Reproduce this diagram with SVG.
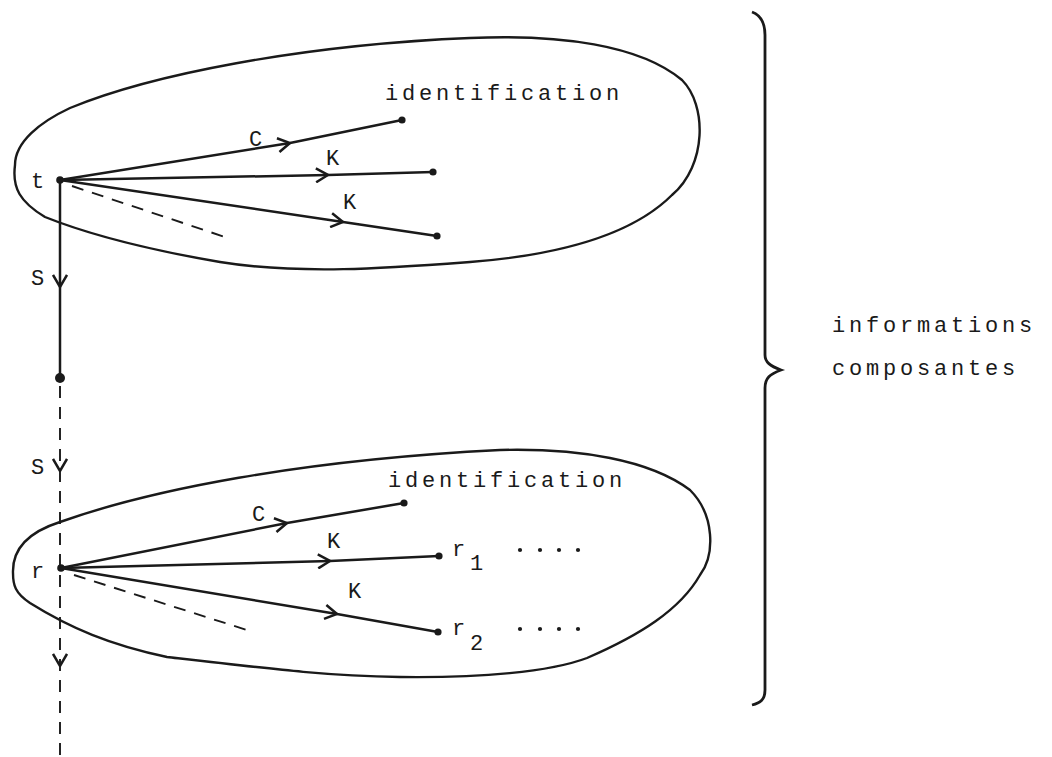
<svg xmlns="http://www.w3.org/2000/svg" width="1052" height="757" viewBox="0 0 1052 757">
  <style>
    .blob { fill: none; stroke: #1a1a1a; stroke-width: 2.4; }
    .edge { fill: none; stroke: #1a1a1a; stroke-width: 2.5; marker-mid: url(#chev); }
    .dash { fill: none; stroke: #1a1a1a; stroke-width: 1.9; stroke-dasharray: 12 9; }
    .dot { fill: #1a1a1a; }
    .lbl { font-family: "Liberation Mono", "DejaVu Sans Mono", monospace; font-size: 22px; fill: #1a1a1a; }
    .word { font-family: "Liberation Mono", "DejaVu Sans Mono", monospace; font-size: 22px; fill: #1a1a1a; letter-spacing: 3.8px; }
  </style>
  <defs>
    <marker id="chev" viewBox="0 0 14 16" refX="13" refY="8" markerWidth="14" markerHeight="16" markerUnits="userSpaceOnUse" orient="auto">
      <path d="M 1 1 L 13 8 L 1 15" fill="none" stroke="#1a1a1a" stroke-width="2.5"/>
    </marker>
  </defs>
  <rect width="1052" height="757" fill="#ffffff"/>

  <!-- upper set: term t -->
  <g id="set-t">
    <path class="blob" d="M 15 165 C 15 142, 40 122, 70 108 C 150 75, 300 45, 470 38 C 560 34, 640 45, 682 80 C 707 105, 707 165, 672 195 C 632 235, 560 255, 470 262 C 390 268, 300 275, 220 262 C 150 250, 90 235, 45 217 C 20 202, 12 188, 15 165 Z"/>
    <text class="lbl" x="31" y="188">t</text>
    <text class="word" x="385" y="100">identification</text>
    <circle class="dot" cx="60" cy="180" r="3.8"/>
    <circle class="dot" cx="402" cy="120" r="3.6"/>
    <circle class="dot" cx="433" cy="172" r="3.6"/>
    <circle class="dot" cx="437" cy="236" r="3.6"/>
  </g>

  <!-- lower set: term r -->
  <g id="set-r">
    <path class="blob" d="M 13 573 C 12 545, 35 530, 60 522 C 150 490, 300 460, 500 450 C 580 448, 650 460, 690 490 C 715 515, 715 555, 700 575 C 680 610, 640 635, 587 658 C 550 672, 480 678, 400 677 C 330 676, 280 670, 167 657 C 110 645, 70 628, 30 603 C 15 593, 13 585, 13 573 Z"/>
    <text class="lbl" x="31" y="578">r</text>
    <text class="word" x="388" y="487">identification</text>
    <circle class="dot" cx="61" cy="568" r="3.8"/>
    <circle class="dot" cx="404" cy="503" r="3.6"/>
    <circle class="dot" cx="439" cy="556" r="3.6"/>
    <circle class="dot" cx="438" cy="632" r="3.6"/>
    <text class="lbl" x="452" y="556">r</text>
    <text class="lbl" x="470" y="570">1</text>
    <text class="lbl" x="452" y="635">r</text>
    <text class="lbl" x="470" y="650">2</text>
    <g class="dot">
      <circle cx="520" cy="550" r="2.1"/><circle cx="540" cy="550" r="2.1"/><circle cx="559" cy="550" r="2.1"/><circle cx="578" cy="550" r="2.1"/>
      <circle cx="520" cy="629" r="2.1"/><circle cx="540" cy="629" r="2.1"/><circle cx="559" cy="629" r="2.1"/><circle cx="578" cy="629" r="2.1"/>
    </g>
  </g>

  <!-- middle node on the S chain -->
  <g id="node-mid">
    <circle class="dot" cx="60" cy="378" r="5"/>
  </g>

  <!-- connectors -->
  <g id="connectors">
    <path class="edge" d="M 60 180 L 290 143 L 402 120"/>
    <path class="edge" d="M 60 180 L 328 175 L 433 172"/>
    <path class="edge" d="M 60 180 L 343 222 L 437 236"/>
    <path class="dash" d="M 72 186 L 225 237"/>
    <path class="edge" d="M 60 180 L 60 287 L 60 378"/>
    <path class="dash" d="M 60 386 L 60 757"/>
    <path class="edge" d="M 60 440 L 60 471 L 60 480" stroke-dasharray="0 40 40"/>
    <path class="edge" d="M 60 640 L 60 666 L 60 672" stroke-dasharray="0 40 40"/>
    <path class="edge" d="M 61 568 L 287 523 L 404 503"/>
    <path class="edge" d="M 61 568 L 330 561 L 439 556"/>
    <path class="edge" d="M 61 568 L 337 614 L 438 632"/>
    <path class="dash" d="M 74 575 L 247 630"/>
    <text class="lbl" x="249" y="146">C</text>
    <text class="lbl" x="326" y="165">K</text>
    <text class="lbl" x="343" y="209">K</text>
    <text class="lbl" x="31" y="285">S</text>
    <text class="lbl" x="31" y="474">S</text>
    <text class="lbl" x="252" y="521">C</text>
    <text class="lbl" x="327" y="548">K</text>
    <text class="lbl" x="348" y="598">K</text>
  </g>

  <!-- brace grouping both sets -->
  <g id="brace">
    <path d="M 752 12 C 760 15, 765 22, 765 35 L 765 355 C 765 362, 770 366, 781 370 C 770 374, 765 378, 765 388 L 765 690 C 765 700, 760 703, 752 705" fill="none" stroke="#1a1a1a" stroke-width="2.8"/>
    <text class="word" x="832" y="332">informations</text>
    <text class="word" x="832" y="375">composantes</text>
  </g>
</svg>
